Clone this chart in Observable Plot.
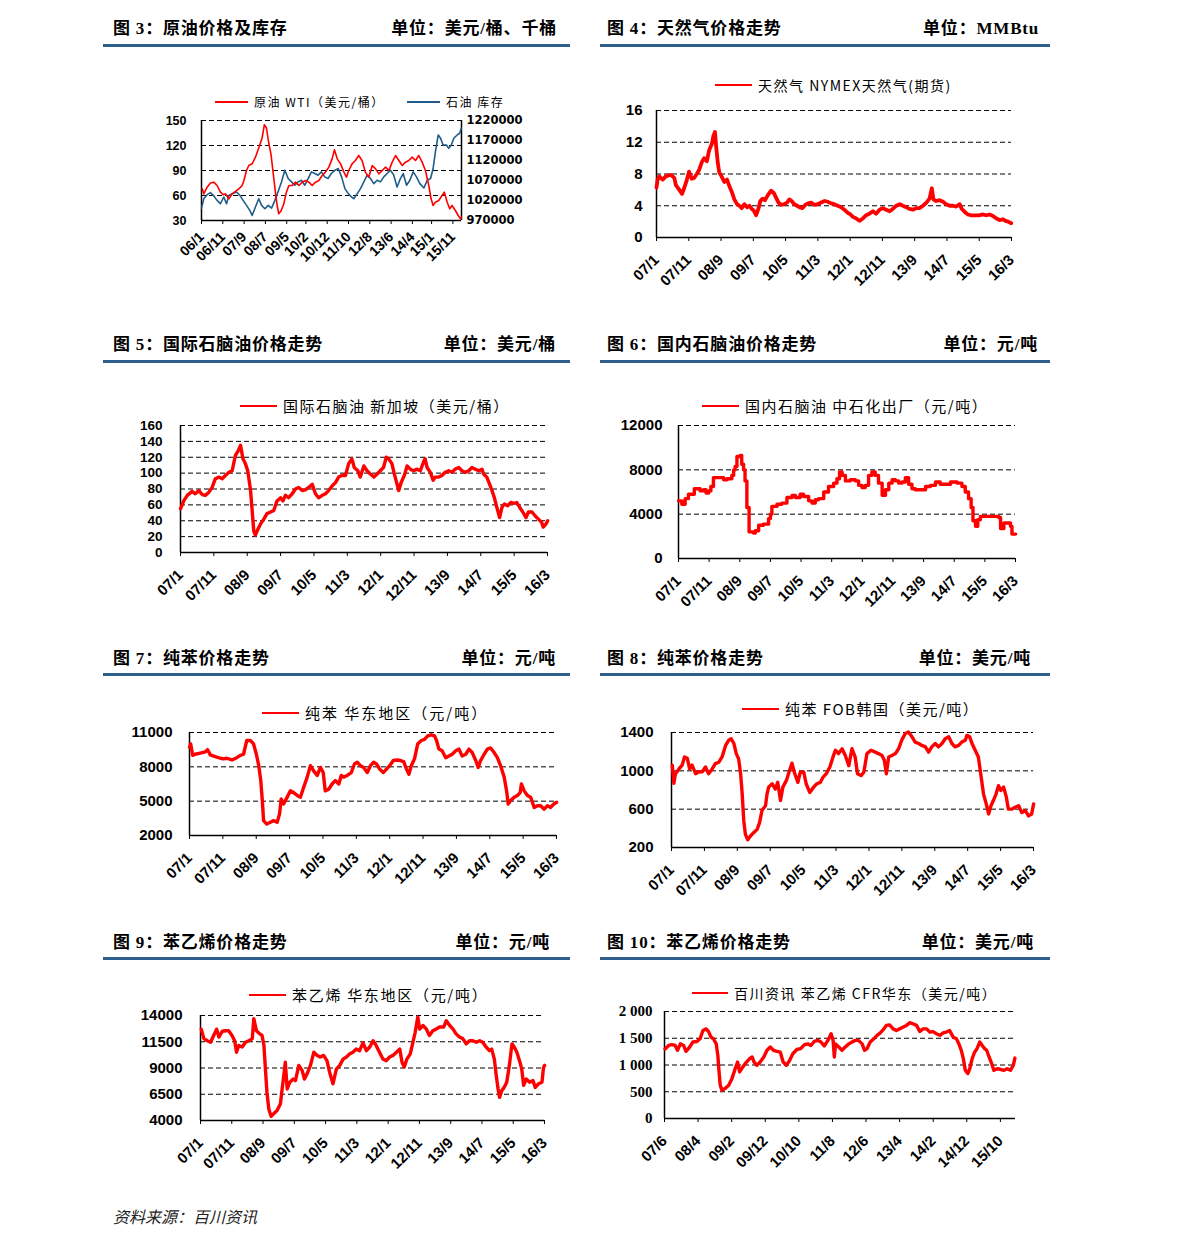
<!DOCTYPE html>
<html><head><meta charset="utf-8">
<script src="https://cdn.jsdelivr.net/npm/d3@7"></script>
<script src="https://cdn.jsdelivr.net/npm/@observablehq/plot@0.6"></script>
<style>
body{margin:0;background:#fff;}
#page{position:relative;width:1191px;height:1243px;overflow:hidden;background:#fff;}
.hdr{position:absolute;font-family:"Liberation Serif","Noto Sans CJK SC",serif;font-weight:700;font-size:17px;letter-spacing:0.8px;color:#000;line-height:20px;white-space:nowrap;}
.rule{position:absolute;height:3px;background:#2f5d8c;}
.leg{position:absolute;font-family:"Noto Sans CJK SC",sans-serif;font-size:14px;letter-spacing:1.5px;white-space:nowrap;line-height:18px;display:flex;align-items:center;color:#000;}
.leg .sw{display:inline-block;height:1.5px;margin-right:6px;}
.chart{position:absolute;}
.foot{position:absolute;left:113px;top:1204px;font-family:"Noto Sans CJK SC",sans-serif;font-style:italic;font-size:16px;color:#222;}
</style></head>
<body><div id="page"></div>
<script>
// ---------- tick labels ----------
const ticksWTI = ["06/1","06/11","07/9","08/7","09/5","10/2","10/12","11/10","12/8","13/6","14/4","15/1","15/11"];
const ticksMain = ["07/1","07/11","08/9","09/7","10/5","11/3","12/1","12/11","13/9","14/7","15/5","16/3"];
const ticksSM = ["07/6","08/4","09/2","09/12","10/10","11/8","12/6","13/4","14/2","14/12","15/10"];

// ---------- data: [decimal year, value] ----------
const wti = [[2006.03,68],[2006.09,62],[2006.22,70],[2006.35,75],[2006.48,76],[2006.61,72],[2006.74,64],[2006.85,61],[2006.94,62],[2007.07,56],[2007.20,62],[2007.33,65],[2007.46,68],[2007.59,72],[2007.66,78],[2007.76,90],[2007.85,96],[2007.98,98],[2008.11,106],[2008.24,117],[2008.37,129],[2008.46,145],[2008.54,141],[2008.63,123],[2008.72,109],[2008.80,88],[2008.89,64],[2008.96,48],[2009.02,38],[2009.12,42],[2009.22,50],[2009.32,64],[2009.42,72],[2009.55,72],[2009.68,76],[2009.81,72],[2009.94,76],[2010.07,78],[2010.20,76],[2010.33,72],[2010.46,76],[2010.59,78],[2010.72,84],[2010.85,88],[2010.98,94],[2011.11,104],[2011.20,115],[2011.31,104],[2011.44,98],[2011.57,88],[2011.67,82],[2011.76,90],[2011.89,98],[2012.02,102],[2012.15,108],[2012.28,102],[2012.41,88],[2012.54,82],[2012.68,96],[2012.81,92],[2012.94,86],[2013.07,90],[2013.20,94],[2013.33,90],[2013.46,100],[2013.59,108],[2013.72,102],[2013.85,96],[2013.98,100],[2014.11,102],[2014.24,106],[2014.37,102],[2014.50,108],[2014.63,100],[2014.76,90],[2014.89,72],[2014.98,56],[2015.06,48],[2015.15,52],[2015.28,54],[2015.41,60],[2015.50,64],[2015.61,52],[2015.71,44],[2015.80,48],[2015.93,42],[2016.04,36],[2016.13,32],[2016.17,34]];
const oilStock = [[2006.00,1001000],[2006.09,1024500],[2006.22,1034600],[2006.35,1039600],[2006.46,1032900],[2006.61,1020300],[2006.74,1011900],[2006.87,1028700],[2006.98,1011900],[2007.07,1032900],[2007.20,1037100],[2007.37,1041300],[2007.50,1032900],[2007.63,1020300],[2007.76,1007800],[2007.89,995200],[2007.98,982600],[2008.11,1003600],[2008.24,1024500],[2008.35,1007800],[2008.48,999400],[2008.61,1007800],[2008.74,1001000],[2008.87,1020300],[2008.99,1041300],[2009.13,1066500],[2009.26,1095800],[2009.39,1074900],[2009.52,1066500],[2009.65,1058100],[2009.78,1066500],[2009.91,1070700],[2010.04,1058100],[2010.17,1074900],[2010.30,1091600],[2010.43,1087400],[2010.56,1083300],[2010.69,1091600],[2010.82,1079100],[2010.95,1074900],[2011.08,1087400],[2011.22,1095800],[2011.35,1100000],[2011.48,1079100],[2011.61,1049700],[2011.74,1037100],[2011.87,1028700],[2011.96,1024500],[2012.09,1037100],[2012.22,1049700],[2012.35,1066500],[2012.48,1083300],[2012.61,1074900],[2012.74,1062300],[2012.87,1070700],[2013.00,1066500],[2013.13,1079100],[2013.26,1087400],[2013.39,1095800],[2013.52,1083300],[2013.65,1053900],[2013.78,1074900],[2013.89,1087400],[2014.02,1058100],[2014.15,1070700],[2014.28,1091600],[2014.41,1079100],[2014.54,1062300],[2014.70,1051400],[2014.83,1070700],[2014.96,1074900],[2015.06,1100000],[2015.15,1142000],[2015.26,1183900],[2015.35,1175500],[2015.45,1158800],[2015.58,1158800],[2015.67,1150400],[2015.77,1158800],[2015.87,1175500],[2016.00,1183900],[2016.10,1188100],[2016.16,1200700]];
const naturalGas = [[2007.00,6.3],[2007.03,7.3],[2007.07,7.7],[2007.16,7.3],[2007.24,7.7],[2007.37,7.9],[2007.46,7.5],[2007.50,6.6],[2007.59,6.0],[2007.66,5.5],[2007.72,6.3],[2007.78,7.2],[2007.84,8.3],[2007.91,7.4],[2007.97,7.5],[2008.04,8.0],[2008.10,8.5],[2008.17,9.5],[2008.23,10.0],[2008.30,9.6],[2008.36,11.0],[2008.43,11.8],[2008.47,12.8],[2008.51,13.3],[2008.54,11.5],[2008.58,9.5],[2008.62,8.2],[2008.68,7.7],[2008.75,7.0],[2008.82,7.3],[2008.88,6.5],[2008.94,5.8],[2009.01,4.8],[2009.08,4.2],[2009.14,4.0],[2009.20,3.7],[2009.27,4.2],[2009.34,3.8],[2009.40,4.0],[2009.46,3.6],[2009.51,3.4],[2009.57,2.8],[2009.63,3.6],[2009.68,4.6],[2009.74,4.9],[2009.80,4.7],[2009.87,5.3],[2009.96,5.9],[2010.03,5.6],[2010.09,5.0],[2010.15,4.4],[2010.22,4.1],[2010.30,4.2],[2010.37,4.4],[2010.43,4.8],[2010.49,4.6],[2010.56,4.2],[2010.63,4.0],[2010.70,3.8],[2010.77,3.7],[2010.84,4.1],[2010.91,4.3],[2010.99,4.4],[2011.08,4.1],[2011.16,4.2],[2011.25,4.4],[2011.34,4.6],[2011.42,4.5],[2011.51,4.3],[2011.59,4.2],[2011.68,4.0],[2011.77,3.8],[2011.85,3.5],[2011.94,3.1],[2012.01,2.9],[2012.07,2.6],[2012.16,2.4],[2012.24,2.1],[2012.33,2.4],[2012.41,2.8],[2012.50,3.0],[2012.59,3.3],[2012.67,3.0],[2012.76,3.5],[2012.84,3.7],[2012.93,3.5],[2013.02,3.3],[2013.10,3.6],[2013.19,4.0],[2013.28,4.2],[2013.36,4.0],[2013.45,3.8],[2013.53,3.6],[2013.62,3.5],[2013.71,3.7],[2013.79,3.7],[2013.88,4.0],[2013.97,4.4],[2014.05,4.9],[2014.11,6.2],[2014.15,4.8],[2014.22,4.6],[2014.31,4.7],[2014.40,4.5],[2014.48,4.2],[2014.57,4.0],[2014.66,4.0],[2014.74,3.9],[2014.83,4.2],[2014.87,3.7],[2014.96,3.2],[2015.04,2.9],[2015.13,2.8],[2015.22,2.8],[2015.33,2.8],[2015.43,2.9],[2015.52,2.8],[2015.60,2.9],[2015.69,2.7],[2015.78,2.4],[2015.86,2.2],[2015.95,2.3],[2016.01,2.1],[2016.08,2.0],[2016.16,1.8]];
const naphthaSG = [[2007.00,55],[2007.08,65],[2007.17,72],[2007.29,77],[2007.37,74],[2007.46,78],[2007.54,73],[2007.62,72],[2007.71,76],[2007.79,82],[2007.87,93],[2007.96,95],[2008.04,93],[2008.12,97],[2008.21,101],[2008.29,103],[2008.37,122],[2008.44,128],[2008.50,135],[2008.56,118],[2008.62,112],[2008.68,103],[2008.75,78],[2008.79,53],[2008.83,27],[2008.87,22],[2008.93,29],[2009.00,36],[2009.08,42],[2009.16,49],[2009.25,51],[2009.33,53],[2009.41,65],[2009.50,69],[2009.56,65],[2009.62,72],[2009.70,69],[2009.79,74],[2009.87,80],[2009.95,82],[2010.04,78],[2010.12,79],[2010.20,82],[2010.29,86],[2010.37,74],[2010.45,69],[2010.54,72],[2010.62,74],[2010.70,78],[2010.79,84],[2010.87,88],[2010.95,95],[2011.03,97],[2011.12,97],[2011.20,112],[2011.28,118],[2011.34,107],[2011.43,103],[2011.49,95],[2011.58,109],[2011.66,103],[2011.74,99],[2011.83,95],[2011.91,99],[2011.99,103],[2012.07,107],[2012.14,120],[2012.20,118],[2012.28,112],[2012.34,99],[2012.41,86],[2012.45,78],[2012.51,88],[2012.59,97],[2012.66,109],[2012.74,105],[2012.82,103],[2012.91,105],[2012.99,103],[2013.07,114],[2013.11,118],[2013.16,107],[2013.24,101],[2013.31,91],[2013.36,95],[2013.45,95],[2013.53,97],[2013.61,101],[2013.70,103],[2013.78,101],[2013.86,105],[2013.95,107],[2014.03,103],[2014.11,101],[2014.20,103],[2014.28,107],[2014.36,105],[2014.45,103],[2014.53,105],[2014.57,99],[2014.65,95],[2014.72,86],[2014.78,78],[2014.84,69],[2014.90,57],[2014.97,44],[2015.03,57],[2015.09,61],[2015.17,59],[2015.25,63],[2015.34,62],[2015.40,63],[2015.47,57],[2015.55,51],[2015.63,44],[2015.69,51],[2015.78,51],[2015.86,46],[2015.94,42],[2016.02,38],[2016.06,32],[2016.13,36],[2016.17,40]];
const naphthaCN = [[2007.00,5200],[2007.09,4900],[2007.18,5400],[2007.27,5800],[2007.43,6300],[2007.59,6100],[2007.68,6200],[2007.75,5900],[2007.82,6100],[2007.88,6500],[2007.95,7300],[2008.13,7300],[2008.23,7100],[2008.32,7200],[2008.45,7500],[2008.50,8000],[2008.54,8300],[2008.59,9200],[2008.68,9300],[2008.72,8500],[2008.77,8000],[2008.81,7000],[2008.86,4600],[2008.92,2400],[2009.04,2300],[2009.09,2500],[2009.18,3000],[2009.31,3100],[2009.45,3600],[2009.50,4000],[2009.54,4700],[2009.68,4900],[2009.81,5000],[2009.95,5500],[2010.09,5700],[2010.18,5500],[2010.31,5800],[2010.40,5600],[2010.54,5200],[2010.63,5000],[2010.72,5300],[2010.81,5400],[2010.95,6000],[2011.08,6500],[2011.22,6800],[2011.31,7200],[2011.38,7800],[2011.45,7500],[2011.54,7000],[2011.67,7100],[2011.81,7000],[2011.90,6600],[2011.99,6400],[2012.08,6600],[2012.17,7500],[2012.26,7800],[2012.35,7500],[2012.44,6800],[2012.54,5700],[2012.63,6200],[2012.72,6800],[2012.81,7100],[2012.90,7000],[2012.99,6800],[2013.08,6900],[2013.17,7300],[2013.26,6700],[2013.35,6300],[2013.44,6200],[2013.58,6200],[2013.72,6500],[2013.85,6600],[2013.99,6900],[2014.12,6700],[2014.26,6700],[2014.40,6900],[2014.58,6800],[2014.71,6500],[2014.80,6000],[2014.89,5400],[2014.96,4600],[2015.01,3400],[2015.08,2900],[2015.14,3500],[2015.21,3800],[2015.39,3800],[2015.58,3800],[2015.71,3700],[2015.76,2700],[2015.85,3200],[2015.94,3200],[2016.03,2900],[2016.07,2200],[2016.17,2200]];
const benzeneCN = [[2007.00,9700],[2007.03,10000],[2007.08,9000],[2007.14,9100],[2007.27,9200],[2007.39,9300],[2007.45,9500],[2007.52,9050],[2007.64,8900],[2007.77,8750],[2007.85,8700],[2007.93,8750],[2008.06,8600],[2008.18,8800],[2008.27,9000],[2008.35,9100],[2008.43,10300],[2008.52,10300],[2008.60,10000],[2008.67,9100],[2008.73,8100],[2008.78,6800],[2008.82,5000],[2008.85,3300],[2008.93,3000],[2009.02,3150],[2009.10,3300],[2009.19,3150],[2009.25,3900],[2009.29,5200],[2009.35,4750],[2009.44,5350],[2009.52,5900],[2009.60,5750],[2009.69,5500],[2009.77,5350],[2009.85,6200],[2009.94,7100],[2010.02,8100],[2010.10,7650],[2010.19,7250],[2010.27,7950],[2010.34,7500],[2010.39,5900],[2010.48,6050],[2010.56,6500],[2010.64,6800],[2010.73,6500],[2010.79,7250],[2010.85,7100],[2010.94,7250],[2011.04,7500],[2011.12,8250],[2011.19,8400],[2011.27,8100],[2011.35,7950],[2011.44,7500],[2011.52,8100],[2011.60,8400],[2011.67,8250],[2011.75,7800],[2011.84,7500],[2011.92,7800],[2012.00,8100],[2012.09,8550],[2012.19,8600],[2012.27,8550],[2012.35,8450],[2012.42,7800],[2012.48,7350],[2012.54,8100],[2012.62,8700],[2012.70,10000],[2012.79,10300],[2012.87,10400],[2012.95,10700],[2013.04,10800],[2013.12,10700],[2013.17,10300],[2013.23,9550],[2013.31,9400],[2013.40,8800],[2013.48,8950],[2013.56,9100],[2013.65,9400],[2013.73,9550],[2013.81,8950],[2013.90,9100],[2013.98,9550],[2014.06,9250],[2014.15,8550],[2014.21,7950],[2014.27,8550],[2014.36,9100],[2014.44,9550],[2014.52,9650],[2014.61,9250],[2014.69,8800],[2014.77,8100],[2014.86,7100],[2014.92,5900],[2014.96,4750],[2015.02,5050],[2015.11,5350],[2015.19,5500],[2015.26,5750],[2015.29,6500],[2015.36,5900],[2015.44,5500],[2015.52,5350],[2015.61,4450],[2015.69,4600],[2015.77,4600],[2015.86,4300],[2015.94,4600],[2016.02,4450],[2016.10,4750],[2016.17,4900]];
const benzeneKR = [[2007.02,1060],[2007.06,870],[2007.10,970],[2007.19,1020],[2007.27,1060],[2007.33,1145],[2007.40,1130],[2007.46,1020],[2007.52,1060],[2007.61,970],[2007.69,990],[2007.78,990],[2007.86,1040],[2007.94,970],[2008.03,1020],[2008.11,1075],[2008.20,1090],[2008.28,1145],[2008.37,1265],[2008.45,1320],[2008.51,1335],[2008.58,1285],[2008.64,1180],[2008.70,1125],[2008.75,970],[2008.79,760],[2008.83,480],[2008.87,340],[2008.93,280],[2009.00,320],[2009.08,355],[2009.17,390],[2009.23,460],[2009.29,585],[2009.38,635],[2009.42,760],[2009.46,830],[2009.55,865],[2009.63,810],[2009.69,880],[2009.76,690],[2009.82,830],[2009.91,900],[2009.99,1005],[2010.05,1080],[2010.11,985],[2010.20,880],[2010.26,985],[2010.35,985],[2010.41,865],[2010.50,775],[2010.60,830],[2010.68,865],[2010.77,880],[2010.84,935],[2010.92,970],[2011.01,1040],[2011.09,1145],[2011.15,1215],[2011.23,1180],[2011.32,1230],[2011.40,1160],[2011.49,1055],[2011.57,1230],[2011.65,1145],[2011.71,970],[2011.80,950],[2011.87,985],[2011.95,1180],[2012.05,1215],[2012.16,1195],[2012.24,1180],[2012.33,1160],[2012.39,1110],[2012.44,970],[2012.50,1145],[2012.58,1160],[2012.67,1180],[2012.75,1230],[2012.83,1320],[2012.92,1390],[2013.00,1405],[2013.09,1355],[2013.17,1300],[2013.26,1285],[2013.34,1265],[2013.43,1250],[2013.51,1195],[2013.59,1250],[2013.68,1285],[2013.76,1250],[2013.85,1285],[2013.93,1335],[2014.02,1355],[2014.10,1285],[2014.18,1250],[2014.27,1265],[2014.35,1300],[2014.44,1320],[2014.48,1370],[2014.55,1355],[2014.61,1285],[2014.69,1215],[2014.77,1145],[2014.83,970],[2014.90,760],[2014.97,655],[2015.03,550],[2015.09,635],[2015.15,690],[2015.22,760],[2015.28,845],[2015.34,795],[2015.41,830],[2015.48,725],[2015.53,600],[2015.62,600],[2015.70,620],[2015.79,635],[2015.87,565],[2015.96,585],[2016.04,530],[2016.12,550],[2016.17,655]];
const styreneCN = [[2007.02,12700],[2007.09,11800],[2007.18,11600],[2007.27,11450],[2007.35,12100],[2007.43,12700],[2007.49,11950],[2007.58,12500],[2007.67,12550],[2007.75,12550],[2007.84,12100],[2007.91,11600],[2007.96,10500],[2008.02,11150],[2008.11,11000],[2008.20,11450],[2008.29,11600],[2008.38,11800],[2008.42,13700],[2008.49,12550],[2008.58,12250],[2008.64,12100],[2008.69,11150],[2008.73,8900],[2008.77,6700],[2008.82,5100],[2008.88,4400],[2008.95,4650],[2009.04,4950],[2009.13,5600],[2009.17,6850],[2009.22,8300],[2009.26,9550],[2009.31,7000],[2009.38,7650],[2009.47,7950],[2009.53,7800],[2009.62,9250],[2009.71,8750],[2009.77,7950],[2009.84,8450],[2009.93,9250],[2010.02,10500],[2010.11,10200],[2010.19,10050],[2010.28,10200],[2010.37,9700],[2010.44,8600],[2010.53,7500],[2010.62,8900],[2010.71,9250],[2010.80,9850],[2010.89,10050],[2010.98,10350],[2011.06,10500],[2011.15,10800],[2011.24,10650],[2011.33,11400],[2011.42,10650],[2011.51,11000],[2011.60,11600],[2011.68,11150],[2011.77,10500],[2011.86,9850],[2011.95,9700],[2012.04,10050],[2012.13,10200],[2012.22,10500],[2012.31,10800],[2012.37,9550],[2012.43,9100],[2012.50,9850],[2012.59,10350],[2012.66,11450],[2012.72,12400],[2012.79,13850],[2012.84,12700],[2012.93,13050],[2013.02,12700],[2013.10,12100],[2013.19,12550],[2013.28,12700],[2013.37,12900],[2013.48,12900],[2013.55,13500],[2013.64,13050],[2013.73,12700],[2013.81,12250],[2013.90,11950],[2013.99,11800],[2014.08,11300],[2014.17,11600],[2014.26,11600],[2014.35,11450],[2014.44,11600],[2014.52,11450],[2014.61,11000],[2014.70,10650],[2014.76,10800],[2014.83,9850],[2014.88,8300],[2014.93,7000],[2014.97,6200],[2015.03,6850],[2015.09,7150],[2015.16,7650],[2015.23,9250],[2015.30,11300],[2015.36,11000],[2015.43,10500],[2015.50,9700],[2015.56,8900],[2015.61,7350],[2015.68,7950],[2015.77,7650],[2015.86,7800],[2015.92,7150],[2016.01,7500],[2016.10,7650],[2016.14,9050],[2016.17,9250]];
const styreneCFR = [[2007.43,1300],[2007.52,1365],[2007.60,1380],[2007.68,1365],[2007.74,1275],[2007.81,1395],[2007.89,1365],[2007.95,1255],[2008.04,1335],[2008.12,1430],[2008.22,1440],[2008.30,1490],[2008.37,1645],[2008.45,1675],[2008.51,1625],[2008.57,1520],[2008.63,1490],[2008.70,1395],[2008.74,1180],[2008.77,870],[2008.80,620],[2008.84,530],[2008.92,560],[2009.01,620],[2009.09,745],[2009.17,930],[2009.23,1055],[2009.28,870],[2009.36,965],[2009.45,1055],[2009.53,1120],[2009.59,1150],[2009.64,1055],[2009.71,995],[2009.79,1055],[2009.88,1150],[2009.96,1275],[2010.04,1335],[2010.12,1275],[2010.21,1255],[2010.29,1240],[2010.36,1055],[2010.44,995],[2010.52,1085],[2010.60,1210],[2010.70,1290],[2010.79,1305],[2010.89,1380],[2010.97,1395],[2011.05,1365],[2011.13,1440],[2011.22,1460],[2011.30,1430],[2011.38,1355],[2011.47,1460],[2011.55,1585],[2011.60,1460],[2011.63,1150],[2011.66,1395],[2011.74,1335],[2011.82,1275],[2011.90,1335],[2011.99,1395],[2012.07,1430],[2012.15,1460],[2012.23,1460],[2012.32,1395],[2012.38,1275],[2012.44,1305],[2012.52,1430],[2012.61,1490],[2012.69,1555],[2012.77,1600],[2012.86,1675],[2012.92,1740],[2013.00,1750],[2013.09,1675],[2013.17,1645],[2013.25,1675],[2013.34,1710],[2013.42,1740],[2013.50,1790],[2013.58,1770],[2013.67,1740],[2013.75,1625],[2013.83,1675],[2013.92,1675],[2014.00,1615],[2014.08,1625],[2014.16,1585],[2014.25,1555],[2014.33,1600],[2014.41,1615],[2014.49,1645],[2014.58,1520],[2014.66,1490],[2014.72,1395],[2014.78,1275],[2014.83,1120],[2014.88,900],[2014.94,840],[2014.99,930],[2015.05,1120],[2015.11,1240],[2015.17,1305],[2015.24,1430],[2015.30,1365],[2015.36,1305],[2015.41,1275],[2015.47,1150],[2015.52,1055],[2015.59,900],[2015.67,930],[2015.75,920],[2015.84,900],[2015.92,930],[2016.00,900],[2016.07,995],[2016.11,1130]];

// ---------- styling constants ----------
const RED = "#ff0000", BLUE = "#1f5c8a";
const SANS = "Liberation Sans, Arial, sans-serif";
const page = document.getElementById("page");
const labelYear = s => { const [y, m] = s.split("/").map(Number); return 2000 + y + (m - 1) / 12; };

function addDiv(cls, css, html) {
  const d = document.createElement("div");
  d.className = cls; Object.assign(d.style, css); if (html != null) d.innerHTML = html;
  page.appendChild(d); return d;
}

// headers
const headers = [
  {t:"图 3：原油价格及库存", u:"单位：美元/桶、千桶", y:29, col:0, ur:556},
  {t:"图 4：天然气价格走势", u:"单位：MMBtu", y:29, col:1, ur:1038},
  {t:"图 5：国际石脑油价格走势", u:"单位：美元/桶", y:345, col:0, ur:555},
  {t:"图 6：国内石脑油价格走势", u:"单位：元/吨", y:345, col:1, ur:1037},
  {t:"图 7：纯苯价格走势", u:"单位：元/吨", y:659, col:0, ur:555},
  {t:"图 8：纯苯价格走势", u:"单位：美元/吨", y:659, col:1, ur:1030},
  {t:"图 9：苯乙烯价格走势", u:"单位：元/吨", y:943, col:0, ur:549},
  {t:"图 10：苯乙烯价格走势", u:"单位：美元/吨", y:943, col:1, ur:1033}
];
const ruleY = {29:44, 345:360, 659:673, 943:957};
headers.forEach(h => {
  addDiv("hdr", {left:(h.col ? 607 : 113) + "px", top:(h.y - 10) + "px"}, h.t);
  addDiv("hdr", {right:(1191 - h.ur - 1) + "px", top:(h.y - 10) + "px"}, h.u);
  addDiv("rule", {left:(h.col ? 600 : 103) + "px", width:(h.col ? 450 : 467) + "px", top:ruleY[h.y] + "px"});
});

function legend(x, y, color, text, len, size, ls) {
  const d = addDiv("leg", {left:x + "px", top:(y - 9) + "px", fontSize:(size || 14) + "px", letterSpacing:(ls == null ? 1.5 : ls) + "px"});
  d.innerHTML = `<span class="sw" style="width:${len || 37}px;background:${color}"></span><span>${text}</span>`;
}

function chart(cfg) {
  const mL = cfg.plotL - cfg.colX, mT = 20, mR = cfg.mR || 45, mB = 80;
  const width = mL + (cfg.plotR - cfg.plotL) + mR;
  const height = mT + (cfg.plotB - cfg.plotT) + mB;
  const xVals = cfg.xLabels.map(labelYear);
  const xLab = new Map(xVals.map((v, i) => [v, cfg.xLabels[i]]));
  const marks = [
    Plot.gridY(cfg.yTicks.filter(t => t !== cfg.yDomain[0]), {stroke:"#000", strokeOpacity:1, strokeWidth:1, strokeDasharray:"5,3"}),
    Plot.axisY(cfg.yTicks, {tickSize:0, tickPadding:cfg.yPad || 16, fontSize:cfg.fs || 15, fontWeight:"bold", fontFamily:cfg.yFont || SANS, tickFormat: cfg.yFormat || (d => String(d))}),
    Plot.axisX(xVals, {tickSize:4, tickPadding:cfg.xPad || 16, tickRotate:-45, fontSize:cfg.xfs || 15, fontWeight:"bold", fontFamily:SANS, tickFormat: d => xLab.get(d), stroke:"#000"}),
    Plot.ruleX([cfg.xDomain[0]], {stroke:"#000", strokeWidth:1.5}),
    Plot.ruleY([cfg.yDomain[0]], {stroke:"#000", strokeWidth:1.5})
  ];
  if (cfg.extra) marks.push(...cfg.extra);
  cfg.series.forEach(s => marks.push(Plot.line(s.data, {x: d => d[0], y: s.y || (d => d[1]), stroke: s.color, strokeWidth: s.w || 3.4, curve: s.curve || "linear", strokeLinejoin:"round"})));
  const svg = Plot.plot({
    width, height, marginLeft:mL, marginRight:mR, marginTop:mT, marginBottom:mB,
    x: {type:"linear", domain: cfg.xDomain},
    y: {type:"linear", domain: cfg.yDomain},
    style: {background:"transparent", overflow:"visible", color:"#000"},
    marks
  });
  const wrap = addDiv("chart", {left:cfg.colX + "px", top:(cfg.plotT - mT) + "px"});
  wrap.appendChild(svg);
}

const mainDomain = [labelYear("07/1"), labelYear("16/3")];

// Fig 3: dual axis
const invTicks = [970000, 1020000, 1070000, 1120000, 1170000, 1220000];
const inv2left = d3.scaleLinear([970000, 1220000], [30, 150]);
chart({colX:100, plotL:201, plotR:461, plotT:120, plotB:220, mR:75, fs:12.5, yPad:15, xfs:14, xPad:10,
  xLabels:ticksWTI, xDomain:[2006.0, 2016.17], yDomain:[30,150], yTicks:[30,60,90,120,150],
  extra:[
    Plot.ruleX([2016.17], {stroke:"#000", strokeWidth:1.5}),
    Plot.axisY(invTicks.map(inv2left), {anchor:"right", tickSize:0, tickPadding:5, fontSize:11.5, fontWeight:"bold", fontFamily:"DejaVu Sans, sans-serif", tickFormat: d => String(Math.round(inv2left.invert(d)))})
  ],
  series:[{data:oilStock, color:BLUE, w:1.6, y: d => inv2left(d[1])}, {data:wti, color:RED, w:1.6}]
});
legend(215, 102, RED, "原油 WTI（美元/桶）", 33, 12);
legend(407, 102, BLUE, "石油 库存", 33, 12);

chart({colX:590, plotL:656, plotR:1011, plotT:110, plotB:237, xLabels:ticksMain, xDomain:mainDomain, yPad:14,
  yDomain:[0,16], yTicks:[0,4,8,12,16], series:[{data:naturalGas, color:RED, w:3.8}]});
legend(715, 85, RED, "天然气 NYMEX天然气(期货)");

chart({colX:100, plotL:180, plotR:547, plotT:425, plotB:552, fs:13.5, yPad:18, xLabels:ticksMain, xDomain:mainDomain,
  yDomain:[0,160], yTicks:[0,20,40,60,80,100,120,140,160], series:[{data:naphthaSG, color:RED}]});
legend(240, 406, RED, "国际石脑油 新加坡（美元/桶）", 37, 15, 1.5);

chart({colX:590, plotL:678, plotR:1015, plotT:425, plotB:558, xLabels:ticksMain, xDomain:mainDomain,
  yDomain:[0,12000], yTicks:[0,4000,8000,12000], series:[{data:naphthaCN, color:RED, curve:"step-after"}]});
legend(702, 406, RED, "国内石脑油 中石化出厂（元/吨）", 37, 15, 1.5);

chart({colX:100, plotL:189, plotR:556, plotT:732, plotB:835, yPad:17, xLabels:ticksMain, xDomain:mainDomain,
  yDomain:[2000,11000], yTicks:[2000,5000,8000,11000], series:[{data:benzeneCN, color:RED}]});
legend(262, 713, RED, "纯苯 华东地区（元/吨）", 37, 15, 2);

chart({colX:590, plotL:671, plotR:1033, plotT:732, plotB:847, yPad:18, xLabels:ticksMain, xDomain:mainDomain,
  yDomain:[200,1400], yTicks:[200,600,1000,1400], series:[{data:benzeneKR, color:RED}]});
legend(742, 709, RED, "纯苯 FOB韩国（美元/吨）", 37, 15, 1.5);

chart({colX:100, plotL:200, plotR:544, plotT:1015, plotB:1120, yPad:18, xLabels:ticksMain, xDomain:mainDomain,
  yDomain:[4000,14000], yTicks:[4000,6500,9000,11500,14000], series:[{data:styreneCN, color:RED}]});
legend(249, 995, RED, "苯乙烯 华东地区（元/吨）", 37, 15, 1.7);

chart({colX:590, plotL:664, plotR:1015, plotT:1011, plotB:1118, xLabels:ticksSM, xDomain:[labelYear("07/6"), 2016.125],
  yDomain:[0,2000], yTicks:[0,500,1000,1500,2000], fs:15, yPad:12, yFont:"Liberation Serif, serif",
  yFormat: d => d >= 1000 ? d3.format(",")(d).replace(",", " ") : String(d),
  series:[{data:styreneCFR, color:RED}]});
legend(692, 993, RED, "百川资讯 苯乙烯 CFR华东（美元/吨）", 36);

addDiv("foot", {}, "资料来源：百川资讯");
</script>
</body></html>
